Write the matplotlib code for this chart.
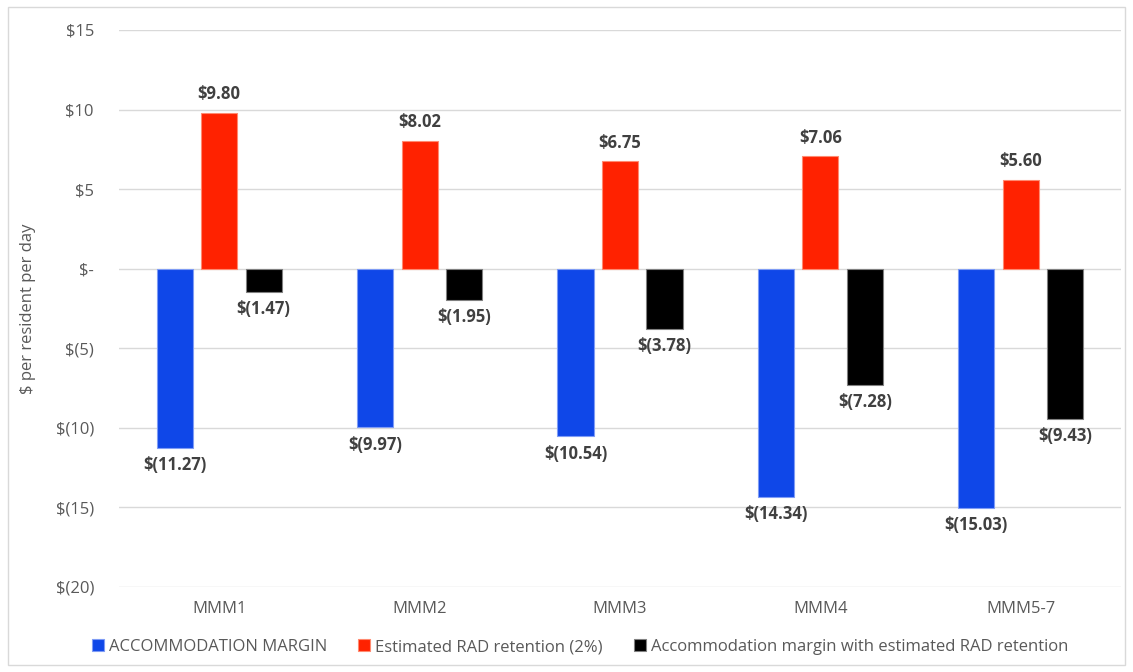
import matplotlib.pyplot as plt
from matplotlib.patches import Rectangle
import numpy as np

categories = ["MMM1", "MMM2", "MMM3", "MMM4", "MMM5-7"]
accommodation_margin = [-11.27, -9.97, -10.54, -14.34, -15.03]
rad_retention = [9.80, 8.02, 6.75, 7.06, 5.60]
margin_with_rad = [-1.47, -1.95, -3.78, -7.28, -9.43]
series_names = ["ACCOMMODATION MARGIN", "Estimated RAD retention (2%)",
                "Accommodation margin with estimated RAD retention"]
yticks = [15, 10, 5, 0, -5, -10, -15, -20]

plt.rcParams['font.family'] = ['Open Sans', 'DejaVu Sans']
grey = '#595959'

def money(v):
    # Excel accounting-style label
    if v == 0:
        return "$-"
    if v < 0:
        return "$(%s)" % ("%g" % -v if float(v).is_integer() else "%.2f" % -v)
    return "$%g" % v if float(v).is_integer() else "$%.2f" % v

fig = plt.figure(figsize=(11.33, 6.72), dpi=100)
fig.patches.append(Rectangle((8/1133, 7/672), 1117/1133, 658/672, transform=fig.transFigure,
                             fill=False, edgecolor='#d9d9d9', linewidth=1))
ax = fig.add_axes([0.105, 0.1265, 0.8844, 0.8289])

x = np.arange(len(categories))
w = 0.18
off = 0.222
series = [accommodation_margin, rad_retention, margin_with_rad]
colors = ['#0f47e8', '#ff2200', '#000000']
edges = ['#7f9cf5', '#ff8a70', '#808080']

bars = []
for i, (vals, c, ec, name) in enumerate(zip(series, colors, edges, series_names)):
    b = ax.bar(x + (i - 1) * off, vals, w, color=c, edgecolor=ec, linewidth=0.8,
               label=name, zorder=3)
    bars.append(b)
    for xi, v in zip(x + (i - 1) * off, vals):
        if v >= 0:
            ax.annotate(money(v), (xi, v), xytext=(0, 7), textcoords='offset points',
                        ha='center', va='bottom', fontsize=12, fontweight='bold', color='#404040')
        else:
            ax.annotate(money(v), (xi, v), xytext=(0, -6), textcoords='offset points',
                        ha='center', va='top', fontsize=12, fontweight='bold', color='#404040')

ax.set_xlim(-0.5, len(categories) - 0.5)
ax.set_ylim(-20, 15)
ax.set_yticks(yticks)
ax.set_yticklabels([money(t) for t in yticks])
ax.set_xticks(x)
ax.set_xticklabels(categories)
ax.tick_params(axis='both', length=0, labelsize=12, colors=grey)
ax.tick_params(axis='y', pad=18)
ax.tick_params(axis='x', pad=10)
ax.grid(axis='y', color='#d9d9d9', linewidth=1, zorder=0)
for s in ax.spines.values():
    s.set_visible(False)
ax.set_ylabel("$ per resident per day", fontsize=12, color=grey, labelpad=14)

leg = fig.legend(handles=bars, loc='center', bbox_to_anchor=(0.512, 1 - 647/672), ncol=3,
                 frameon=False, fontsize=12, handlelength=0.7, handleheight=0.7,
                 handletextpad=0.3, columnspacing=1.9)
for t in leg.get_texts():
    t.set_color(grey)

plt.savefig("out.png", dpi=100)
